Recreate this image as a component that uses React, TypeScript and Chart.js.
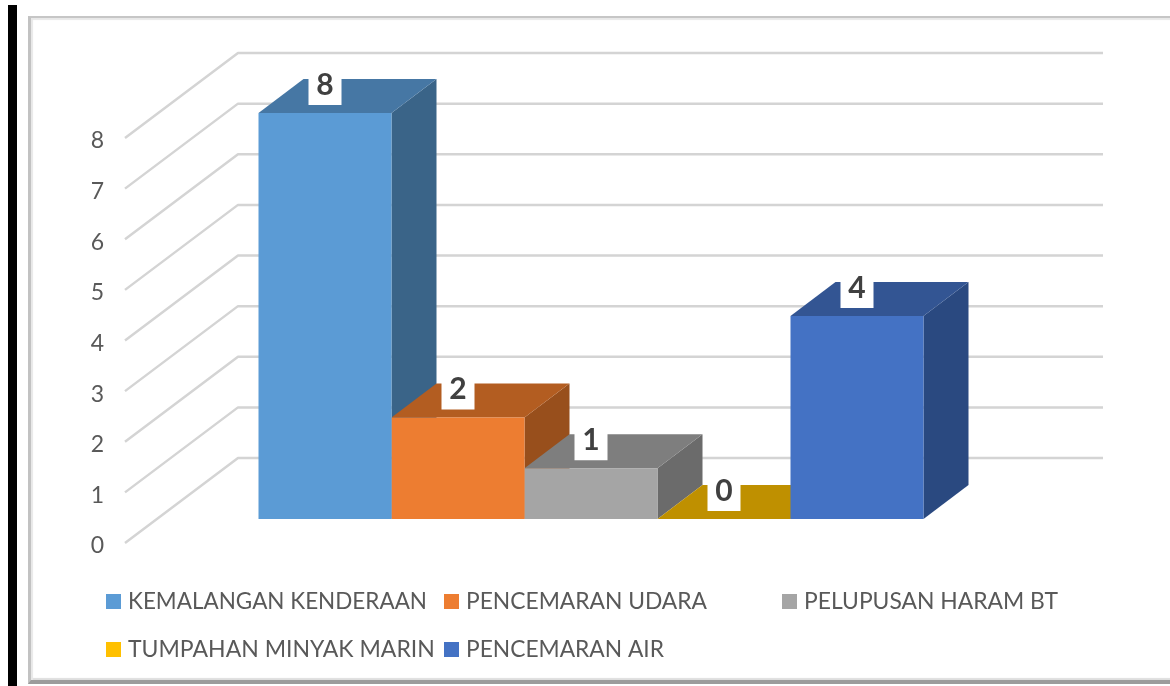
import React, { useEffect, useRef } from "react";
import { Chart, registerables } from "chart.js";

Chart.register(...registerables);

const categories = ["2019"];
const seriesNames = [
  "KEMALANGAN KENDERAAN",
  "PENCEMARAN UDARA",
  "PELUPUSAN HARAM BT",
  "TUMPAHAN MINYAK MARIN",
  "PENCEMARAN AIR",
];
const seriesValues = [8, 2, 1, 0, 4];
const tickValues = [0, 1, 2, 3, 4, 5, 6, 7, 8];

const frontColors = ["#5B9BD5", "#ED7D31", "#A5A5A5", "#FFC000", "#4472C4"];
const topColors = ["#4677A4", "#B35D21", "#7E7E7E", "#BF9000", "#335593"];
const sideColors = ["#3A6488", "#984F1C", "#6B6B6B", "#A37B00", "#2A4980"];

const FONT = "Lato, 'Noto Sans', sans-serif";
const DEPTH_X = 45;
const DEPTH_Y = 34;

const poly = (ctx: CanvasRenderingContext2D, pts: number[][], color: string) => {
  ctx.fillStyle = color;
  ctx.beginPath();
  pts.forEach(([x, y], i) => (i ? ctx.lineTo(x, y) : ctx.moveTo(x, y)));
  ctx.closePath();
  ctx.fill();
};

const scene3d = {
  id: "scene3d",
  beforeDatasetsDraw(chart: any) {
    const { ctx } = chart;
    const yLabels = chart.scales.yLabels;
    ctx.save();
    ctx.strokeStyle = "#d4d4d4";
    ctx.lineWidth = 2.5;
    ctx.lineJoin = "round";
    tickValues.forEach((v) => {
      const y = yLabels.getPixelForValue(v);
      ctx.beginPath();
      ctx.moveTo(125, y);
      ctx.lineTo(238, y - 85);
      ctx.lineTo(1103, y - 85);
      ctx.stroke();
    });
    chart.data.datasets.forEach((_: any, i: number) => {
      const bar = chart.getDatasetMeta(i).data[0];
      const { x, y, base, width } = bar.getProps(["x", "y", "base", "width"], true);
      const l = x - width / 2;
      const r = x + width / 2;
      if (base - y > 0) {
        poly(ctx, [[r, y], [r + DEPTH_X, y - DEPTH_Y], [r + DEPTH_X, base - DEPTH_Y], [r, base]], sideColors[i]);
      }
      poly(ctx, [[l, y], [r, y], [r + DEPTH_X, y - DEPTH_Y], [l + DEPTH_X, y - DEPTH_Y]], topColors[i]);
    });
    ctx.restore();
  },
  afterDatasetsDraw(chart: any) {
    const { ctx } = chart;
    ctx.save();
    ctx.textAlign = "center";
    ctx.textBaseline = "middle";
    chart.data.datasets.forEach((ds: any, i: number) => {
      const bar = chart.getDatasetMeta(i).data[0];
      const { x, y } = bar.getProps(["x", "y"], true);
      ctx.fillStyle = "#ffffff";
      ctx.fillRect(x - 16.5, y - 44, 33, 36);
      ctx.fillStyle = "#404040";
      ctx.font = `bold 30px ${FONT}`;
      ctx.fillText(String(ds.data[0]), x, y - 28);
    });
    ctx.restore();
  },
  afterDraw(chart: any) {
    const { ctx } = chart;
    const slots = [
      [106, 594, 299],
      [444, 594, 241],
      [782, 594, 254],
      [106, 642, 307],
      [444, 642, 198],
    ];
    ctx.save();
    ctx.font = `23px ${FONT}`;
    ctx.textAlign = "left";
    ctx.textBaseline = "middle";
    chart.data.datasets.forEach((ds: any, i: number) => {
      const [sx, sy, maxW] = slots[i];
      ctx.fillStyle = ds.backgroundColor;
      ctx.fillRect(sx, sy, 15, 15);
      ctx.fillStyle = "#595959";
      ctx.fillText(ds.label, sx + 22, sy + 7.5, maxW);
    });
    ctx.restore();
  },
};

export default function App() {
  const ref = useRef<HTMLCanvasElement>(null);
  useEffect(() => {
    const chart = new Chart(ref.current as HTMLCanvasElement, {
      type: "bar",
      data: {
        labels: categories,
        datasets: seriesNames.map((label, i) => ({
          label,
          data: [seriesValues[i]],
          backgroundColor: frontColors[i],
          yAxisID: "y",
          barPercentage: 1,
          categoryPercentage: 665 / 864,
          borderWidth: 0,
        })),
      },
      options: {
        responsive: false,
        animation: false,
        layout: { padding: { top: 53, bottom: 143, right: 147, left: 0 } },
        plugins: { legend: { display: false }, title: { display: false }, tooltip: { enabled: false } },
        scales: {
          x: { display: false },
          y: { display: false, min: -24 / 50.75, max: 466 / 50.75 },
          yLabels: {
            position: "left",
            min: 0,
            max: 490 / 50.625,
            grid: { display: false },
            border: { display: false },
            afterBuildTicks: (s: any) => {
              s.ticks = tickValues.map((value) => ({ value }));
            },
            afterFit: (s: any) => {
              s.width = 159;
              s.paddingTop = 0;
              s.paddingBottom = 0;
            },
            ticks: {
              padding: 47,
              labelOffset: 3,
              color: "#595959",
              font: { family: FONT, size: 23 },
              callback: (v: any) => String(v),
            },
          },
        },
      } as any,
      plugins: [scene3d],
    });
    return () => chart.destroy();
  }, []);

  return (
    <div style={{ position: "fixed", left: 0, top: 0, width: 1170, height: 686, overflow: "hidden", background: "#fff" }}>
      <div style={{ position: "absolute", left: 8, top: 5, width: 9, height: 681, background: "#000" }} />
      <div
        style={{
          position: "absolute",
          left: 28,
          top: 16,
          width: 1150,
          height: 662,
          borderTop: "2px solid #c6c6c6",
          borderLeft: "3px solid #c2c2c2",
          borderBottom: "4px solid #9c9c9c",
          boxShadow: "inset 2px 2px 1px #e8e8e8, inset 0 -2px 1px #dedede",
        }}
      />
      <canvas ref={ref} width={1170} height={686} style={{ position: "absolute", left: 0, top: 0, display: "block" }} />
    </div>
  );
}
